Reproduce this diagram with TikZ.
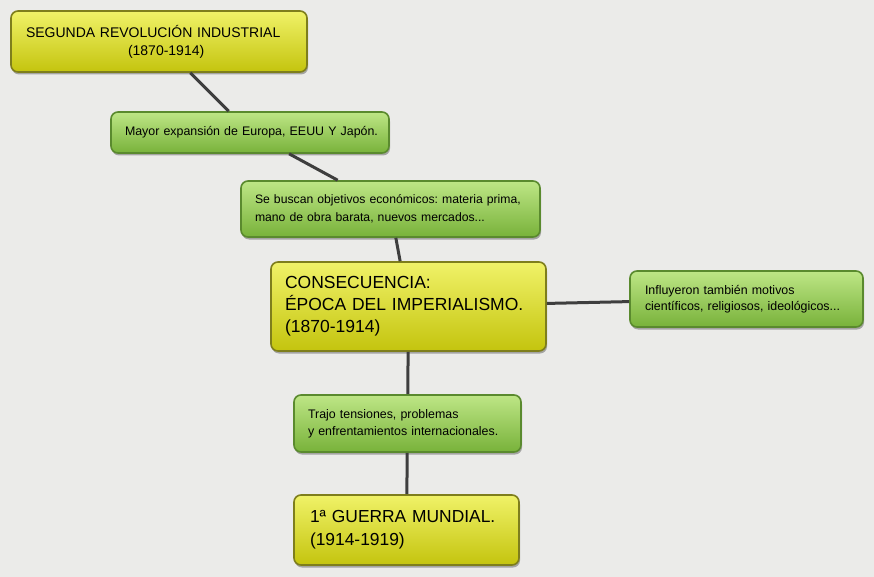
\documentclass[tikz,border=0pt]{standalone}
\usepackage{fontspec}
\setmainfont{Liberation Sans}
\usetikzlibrary{shadows}
\frenchspacing
\hfuzz=100pt
\definecolor{bgc}{HTML}{EBEBE9}
\definecolor{ytop}{HTML}{F0F268}
\definecolor{ymid}{HTML}{DEDE2C}
\definecolor{ybot}{HTML}{C4C40E}
\definecolor{yborder}{HTML}{7E7E1C}
\definecolor{gtop}{HTML}{BEE686}
\definecolor{gmid}{HTML}{9CCE5A}
\definecolor{gbot}{HTML}{78B23A}
\definecolor{gborder}{HTML}{5A8A2E}
\definecolor{linkc}{HTML}{3E3E3E}
\begin{document}
\begin{tikzpicture}[x=1pt,y=-1pt,
  box/.style={rounded corners=7pt, line width=1.6pt,
    drop shadow={shadow xshift=1pt, shadow yshift=-2.5pt, opacity=0.3, fill=black},
    align=left, inner xsep=0pt, inner ysep=0pt, anchor=center, text=black},
  ybox/.style={box, draw=yborder, top color=ytop, middle color=ymid, bottom color=ybot},
  gbox/.style={box, draw=gborder, top color=gtop, middle color=gmid, bottom color=gbot},
  link/.style={draw=linkc, line width=3pt}]
\fill[bgc] (0,0) rectangle (874,577);
\useasboundingbox (0,0) rectangle (874,577);

\node[ybox, minimum width=296pt, minimum height=61pt, text width=266pt,
  font=\fontsize{14}{18}\selectfont] (seg) at (159,41.5)
  {SEGUNDA REVOLUCIÓN INDUSTRIAL\\\hspace*{102pt}(1870-1914)};
\node[gbox, minimum width=278pt, minimum height=41pt, text width=250pt,
  font=\fontsize{12.4}{17}\selectfont] (may) at (250,132.5)
  {\mbox{Mayor expansión de Europa, EEUU Y Japón.}};
\node[gbox, minimum width=299pt, minimum height=56pt, text width=271pt,
  font=\fontsize{12.2}{18}\selectfont] (bus) at (390.5,209)
  {\mbox{Se buscan objetivos económicos: materia prima,}\\\mbox{mano de obra barata, nuevos mercados...}};
\node[ybox, minimum width=275pt, minimum height=89pt, text width=247pt,
  font=\fontsize{17.5}{22}\selectfont] (con) at (408.5,306.5)
  {CONSECUENCIA:\\ÉPOCA DEL IMPERIALISMO.\\(1870-1914)};
\node[gbox, minimum width=233pt, minimum height=56pt, text width=203pt,
  font=\fontsize{12.4}{16}\selectfont] (inf) at (746.5,299)
  {\mbox{Influyeron también motivos}\\\mbox{científicos, religiosos, ideológicos...}};
\node[gbox, minimum width=227pt, minimum height=57pt, text width=199pt,
  font=\fontsize{12.4}{17}\selectfont] (tra) at (407.5,423.5)
  {\mbox{Trajo tensiones, problemas}\\\mbox{y enfrentamientos internacionales.}};
\node[ybox, minimum width=225pt, minimum height=70pt, text width=193pt,
  font=\fontsize{17.4}{23}\selectfont] (gue) at (406.5,530)
  {1ª GUERRA MUNDIAL.\\(1914-1919)};

\draw[link] (seg) -- (may);
\draw[link] (may) -- (bus);
\draw[link] (bus) -- (con);
\draw[link] (con) -- (inf);
\draw[link] (con) -- (tra);
\draw[link] (tra) -- (gue);
\end{tikzpicture}
\end{document}
